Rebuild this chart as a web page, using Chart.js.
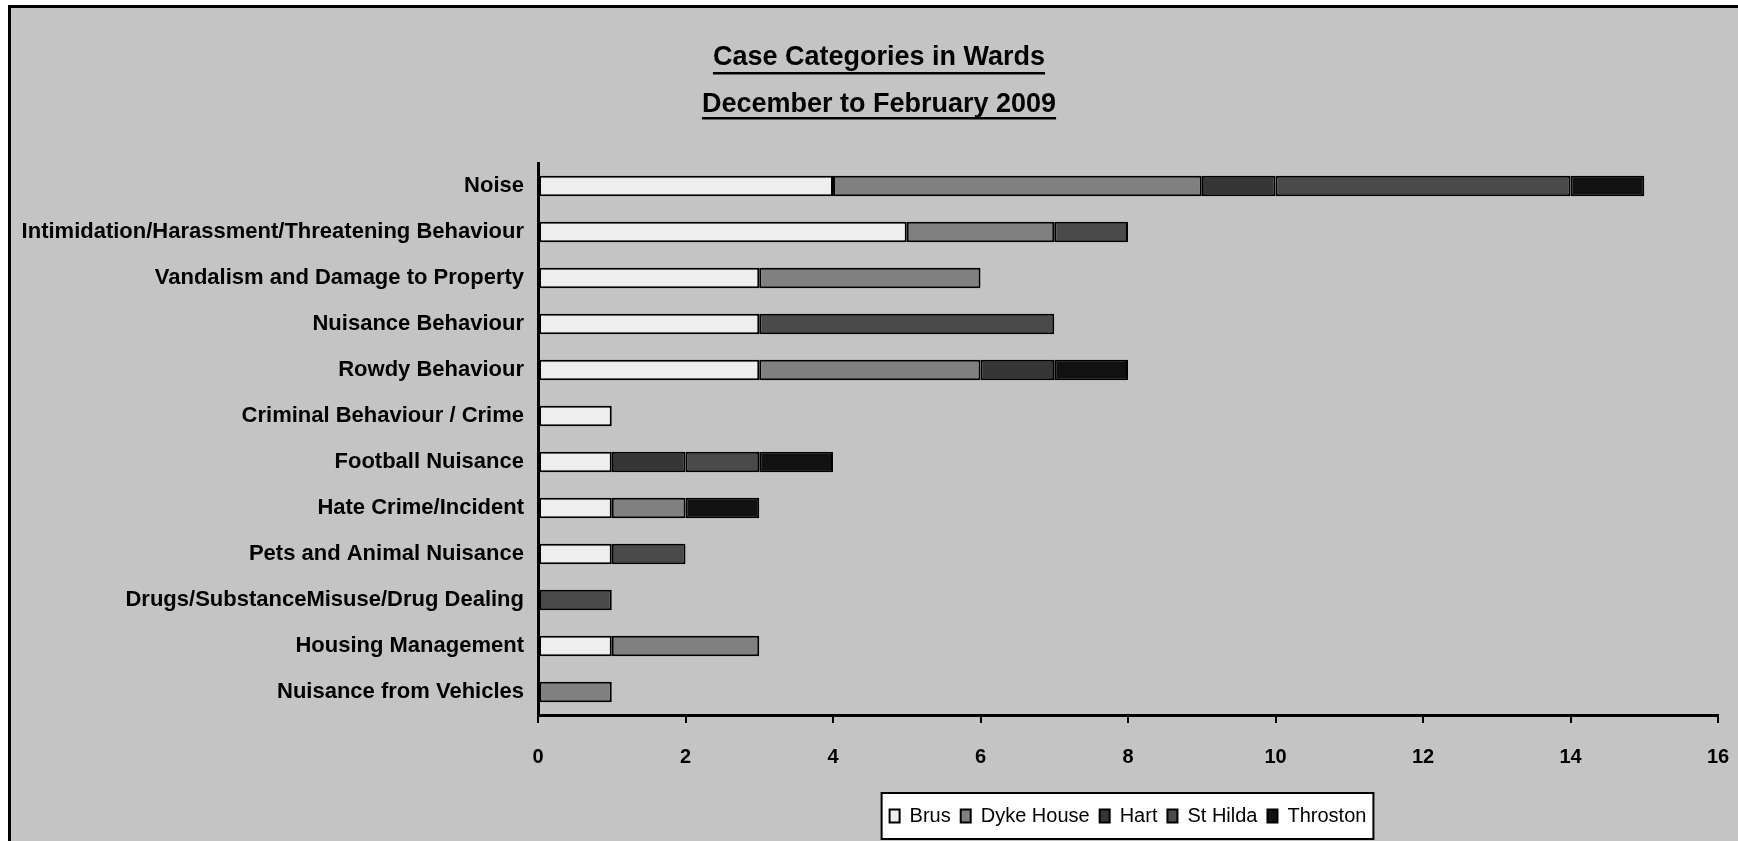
<!DOCTYPE html>
<html><head><meta charset="utf-8">
<script src="https://cdn.jsdelivr.net/npm/chart.js@4"></script>
<style>
html,body{margin:0;padding:0;background:#fff;overflow:hidden;width:1738px;height:841px;}
#frame{position:absolute;left:8px;top:5px;width:1800px;height:900px;border:3px solid #000;background:#c4c4c4;}
#wrap{position:absolute;left:0;top:0;width:1738px;height:841px;}
</style></head><body>
<div id="frame"></div>
<div id="wrap"><canvas id="c" width="1738" height="841"></canvas></div>
<script>
const titleLines = ['Case Categories in Wards', 'December to February 2009'];
const categories = [
  'Noise',
  'Intimidation/Harassment/Threatening Behaviour',
  'Vandalism and Damage to Property',
  'Nuisance Behaviour',
  'Rowdy Behaviour',
  'Criminal Behaviour / Crime',
  'Football Nuisance',
  'Hate Crime/Incident',
  'Pets and Animal Nuisance',
  'Drugs/SubstanceMisuse/Drug Dealing',
  'Housing Management',
  'Nuisance from Vehicles'
];
const seriesNames = ['Brus', 'Dyke House', 'Hart', 'St Hilda', 'Throston'];
const brus      = [4, 5, 3, 3, 3, 1, 1, 1, 1, null, 1, null];
const dykeHouse = [5, 2, 3, null, 3, null, null, 1, null, null, 2, 1];
const hart      = [1, null, null, null, 1, null, 1, null, null, null, null, null];
const stHilda   = [4, 1, null, 4, null, null, 1, null, 1, 1, null, null];
const throston  = [1, null, null, null, 1, null, 1, 1, null, null, null, null];
const xTicks = [0, 2, 4, 6, 8, 10, 12, 14, 16];

const colors = ['#eeeeee', '#808080', '#363636', '#4a4a4a', '#111111'];
const FONT = '"Liberation Sans", Arial, sans-serif';

const titlePlugin = {
  id: 'ulTitle',
  afterDraw(chart) {
    const ctx = chart.ctx;
    ctx.save();
    ctx.font = 'bold 27px ' + FONT;
    ctx.fillStyle = '#000';
    ctx.textAlign = 'center';
    ctx.textBaseline = 'alphabetic';
    const baselines = [65, 112];
    const underlines = [72, 117];
    titleLines.forEach((t, i) => {
      ctx.fillText(t, 879, baselines[i]);
      const w = ctx.measureText(t).width;
      ctx.fillRect(879 - w / 2, underlines[i], w, 2.5);
    });
    ctx.restore();
  }
};

const legendBoxPlugin = {
  id: 'legendBox',
  beforeDraw(chart) {
    const lg = chart.legend;
    if (!lg || !lg.legendHitBoxes || !lg.legendHitBoxes.length) return;
    const hb = lg.legendHitBoxes;
    let l = Infinity, r = -Infinity, t = Infinity, b = -Infinity;
    hb.forEach(h => { l = Math.min(l, h.left); r = Math.max(r, h.left + h.width); t = Math.min(t, h.top); b = Math.max(b, h.top + h.height); });
    const ctx = chart.ctx;
    ctx.save();
    ctx.fillStyle = '#fff';
    ctx.strokeStyle = '#000';
    ctx.lineWidth = 2;
    const x0 = l - 8, x1 = r + 7, y0 = (t + b) / 2 - 23, y1 = (t + b) / 2 + 23;
    ctx.fillRect(x0, y0, x1 - x0, y1 - y0);
    ctx.strokeRect(x0, y0, x1 - x0, y1 - y0);
    ctx.restore();
  }
};

const seriesData = [brus, dykeHouse, hart, stHilda, throston];
const datasets = seriesNames.map((name, i) => ({
  label: name,
  data: seriesData[i],
  backgroundColor: colors[i],
  borderColor: '#000',
  borderWidth: 2,
  borderSkipped: false,
  barPercentage: 0.45,
  categoryPercentage: 1.0
}));

new Chart(document.getElementById('c'), {
  type: 'bar',
  data: { labels: categories, datasets },
  plugins: [titlePlugin, legendBoxPlugin],
  options: {
    indexAxis: 'y',
    responsive: false,
    animation: false,
    devicePixelRatio: 1,
    layout: { padding: { top: 163, right: 20, left: 0, bottom: 5 } },
    plugins: {
      title: { display: false },
      tooltip: { enabled: false },
      legend: {
        display: true,
        position: 'bottom',
        fullSize: false,
        labels: {
          color: '#000',
          font: { family: FONT, size: 20, weight: 'normal' },
          boxWidth: 10,
          boxHeight: 13,
          padding: 10
        }
      }
    },
    scales: {
      x: {
        stacked: true,
        min: 0,
        max: 16,
        afterBuildTicks(scale) { scale.ticks = xTicks.map(v => ({ value: v })); },
        afterFit(scale) { scale.height = 81; scale.paddingLeft = 0; scale.paddingRight = 0; },
        border: { display: true, color: '#000', width: 3 },
        grid: { display: true, drawOnChartArea: false, drawTicks: true, tickLength: 8, color: '#000', lineWidth: 2 },
        ticks: { color: '#000', padding: 22, font: { family: FONT, size: 20, weight: 'bold' } }
      },
      y: {
        stacked: true,
        afterFit(scale) { scale.width = 538; },
        border: { display: true, color: '#000', width: 3 },
        grid: { display: false, drawTicks: false },
        ticks: { color: '#000', padding: 14, font: { family: FONT, size: 22, weight: 'bold' } }
      }
    }
  }
});
</script>
</body></html>
